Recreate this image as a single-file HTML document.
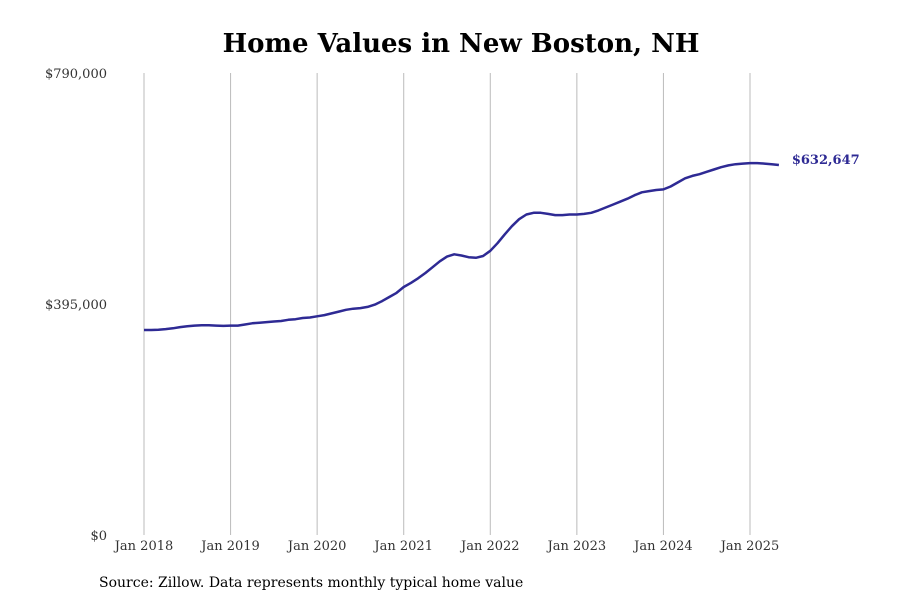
<!DOCTYPE html>
<html><head><meta charset="utf-8"><style>
body{margin:0;background:#fff;}
svg text{font-family:"DejaVu Serif","Liberation Serif",serif;}
</style></head><body>
<svg width="900" height="600" xmlns="http://www.w3.org/2000/svg">
<text x="461" y="52" text-anchor="middle" font-size="26" font-weight="bold" fill="#000">Home Values in New Boston, NH</text>
<g id="grid"></g><g id="yaxis"></g><g id="xaxis"></g><g id="series"></g>
<text x="99" y="587" font-size="14" fill="#000">Source: Zillow. Data represents monthly typical home value</text>
</svg>
<script>
const yearLabels=["Jan 2018","Jan 2019","Jan 2020","Jan 2021","Jan 2022","Jan 2023","Jan 2024","Jan 2025"];
const yTicks=[0,395000,790000];
const yTickLabels=["$0","$395,000","$790,000"];
const values=[350.5,350.6,351,352,353.5,355.5,357,358,358.5,358.5,358,357.5,
358,358,360,362,363,364,365,366,368,369,371,372,
374,376,379,382,385,387,388,390,394,400,407,414,
424,431,439,448,458,468,476,480,478,475,474,477,
486,499,514,528,540,548,551,551,549,547,547,548,
548,549,551,555,560,565,570,575,581,586,588,590,
591,596,603,610,614,617,621,625,629,632,634,635,
636,636,635,634,632.647].map(v=>v*1000);
const lastLabel="$632,647";
const NS="http://www.w3.org/2000/svg";
const x0=144,pxPerMonth=(750-144)/84;
const xm=i=>x0+i*pxPerMonth;
const y=v=>535-v/790000*462;
function mk(tag,attrs,parent,txt){const e=document.createElementNS(NS,tag);for(const k in attrs)e.setAttribute(k,attrs[k]);if(txt!==undefined)e.textContent=txt;document.getElementById(parent).appendChild(e);return e;}
yearLabels.forEach((l,i)=>{
 const g=mk("line",{x1:xm(i*12),x2:xm(i*12),y1:73,y2:535,stroke:"#bbb","stroke-width":1},"grid");
 
 
 const t=mk("text",{x:xm(i*12),y:550,"text-anchor":"middle","font-size":13,fill:"#333"},"xaxis",l);
 
 
});
yTicks.forEach((v,i)=>{
 const t=mk("text",{x:107,y:y(v)+5,"text-anchor":"end","font-size":13,fill:"#333"},"yaxis",yTickLabels[i]);
 
 
});
const d=values.map((v,i)=>(i?"L":"M")+xm(i).toFixed(1)+","+y(v).toFixed(1)).join("");
const p=mk("path",{d:d,fill:"none",stroke:"#2e2a94","stroke-width":2.5,"stroke-linejoin":"round"},"series");


const n=values.length-1;
const lab=mk("text",{x:xm(n)+13,y:y(values[n])-1,"font-size":13,"font-weight":"bold",fill:"#2e2a94"},"series",lastLabel);


</script>
</body></html>
